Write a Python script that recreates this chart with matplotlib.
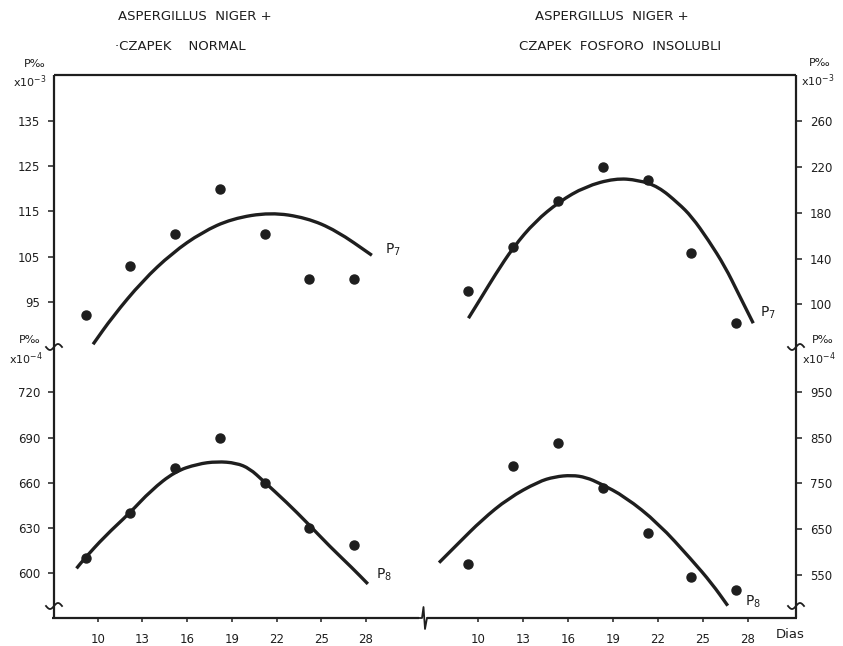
import numpy as np
import matplotlib
matplotlib.use("Agg")
import matplotlib.pyplot as plt
from matplotlib.path import Path
from matplotlib.patches import PathPatch

# ---------------- data ----------------
days_left = [9.2, 12.2, 15.2, 18.2, 21.2, 24.2, 27.2]
p7_normal = [92, 103, 110, 120, 110, 100, 100]
p8_normal = [610, 640, 670, 690, 660, 630, 619]

days_right = [9.3, 12.3, 15.3, 18.3, 21.3, 24.2, 27.2]
p7_insol = [112, 150, 190, 220, 209, 145, 84]
p8_insol = [573, 789, 838, 741, 641, 545, 517]

# fitted curves as drawn
curve_p7n_days = [9.69, 11, 13, 15, 17, 19, 21.6, 24, 26, 28.4]
curve_p7n_vals = [85.6, 91.7, 99.6, 105.8, 110.4, 113.4, 114.8, 113.6, 110.8, 105.3]

curve_p8n_days = [8.58, 9.09, 10.47, 12.15, 13.58, 15.18, 16.69, 18.0, 19.3, 20.2, 21.09, 22.69, 24.07, 25.58, 27.09, 28.13]
curve_p8n_vals = [603.3, 609.5, 624.5, 640, 655, 667.5, 672.5, 674.2, 673.2, 669.5, 661.5, 647, 633.4, 617.8, 603.5, 593]

curve_p7i_days = [9.36, 10.25, 11.13, 12.35, 13.8, 15.42, 17.13, 19.13, 20.69, 22.02, 23.35, 24.25, 25.35, 26.47, 27.35, 28.35]
curve_p7i_vals = [87.8, 106.6, 125.6, 149.9, 172.3, 189.8, 202.9, 210.2, 208.7, 202.9, 188.4, 176.6, 156.3, 132.9, 109.6, 83.4]

curve_p8i_days = [7.4, 8.69, 10.25, 12.02, 14.02, 15.1, 16.25, 17.2, 18.13, 19.8, 22.02, 24.25, 25.58, 26.65]
curve_p8i_vals = [576.9, 619.2, 670, 717.5, 753.7, 764.4, 768, 763.2, 750, 721, 662.9, 582.8, 531.9, 483]

xticks = [10, 13, 16, 19, 22, 25, 28]
yticks_tl = [95, 105, 115, 125, 135]
yticks_bl = [600, 630, 660, 690, 720]
yticks_tr = [100, 140, 180, 220, 260]
yticks_br = [550, 650, 750, 850, 950]

# ---------------- figure ----------------
W, H = 843, 646
fig = plt.figure(figsize=(W / 100, H / 100), dpi=100)
fig.patch.set_facecolor('white')
INK = '#1e1e1e'


def px_rect(x0, y0, x1, y1):
    return [x0 / W, 1 - y1 / H, (x1 - x0) / W, (y1 - y0) / H]


axTL = fig.add_axes(px_rect(54, 75, 423, 347))
axBL = fig.add_axes(px_rect(54, 347, 423, 618))
axTR = fig.add_axes(px_rect(423, 75, 796, 347))
axBR = fig.add_axes(px_rect(423, 347, 796, 618))

axTL.set_xlim(7.07, 31.83); axBL.set_xlim(7.07, 31.83)
axTR.set_xlim(6.33, 31.2); axBR.set_xlim(6.33, 31.2)
axTL.set_ylim(85.0, 145.2)
axTR.set_ylim(62.6, 300.6)
axBL.set_ylim(570.4, 750.1)
axBR.set_ylim(456.1, 1047.8)

for ax in (axTL, axBL, axTR, axBR):
    ax.patch.set_visible(False)
    for s in ax.spines.values():
        s.set_visible(False)
    ax.tick_params(colors=INK, labelsize=8.5, width=1.1)

for ax, yt in ((axTL, yticks_tl), (axBL, yticks_bl)):
    ax.set_yticks(yt)
    ax.yaxis.set_ticks_position('left')
    ax.tick_params(axis='y', direction='out', length=4, pad=6)
for ax, yt in ((axTR, yticks_tr), (axBR, yticks_br)):
    ax.set_yticks(yt)
    ax.yaxis.tick_right()
    ax.tick_params(axis='y', direction='out', length=4, pad=6)

for ax in (axTL, axTR):
    ax.set_xticks([])
for ax in (axBL, axBR):
    ax.set_xticks(xticks)
    ax.tick_params(axis='x', direction='out', length=3, pad=8)


def smooth_curve(ax, xs, ys, lw=2.4):
    """Draw the read curve as a smooth path (quadratic Bezier through midpoints)."""
    pts = list(zip(xs, ys))
    verts = [pts[0], ((pts[0][0] + pts[1][0]) / 2, (pts[0][1] + pts[1][1]) / 2)]
    codes = [Path.MOVETO, Path.LINETO]
    for i in range(1, len(pts) - 1):
        mid = ((pts[i][0] + pts[i + 1][0]) / 2, (pts[i][1] + pts[i + 1][1]) / 2)
        verts += [pts[i], mid]
        codes += [Path.CURVE3, Path.CURVE3]
    verts.append(pts[-1])
    codes.append(Path.LINETO)
    ax.add_patch(PathPatch(Path(verts, codes), fill=False, edgecolor=INK,
                           lw=lw, capstyle='butt', joinstyle='round'))


ms = 6.5
smooth_curve(axTL, curve_p7n_days, curve_p7n_vals)
axTL.plot(days_left, p7_normal, 'o', color=INK, ms=ms)
smooth_curve(axBL, curve_p8n_days, curve_p8n_vals)
axBL.plot(days_left, p8_normal, 'o', color=INK, ms=ms)
smooth_curve(axTR, curve_p7i_days, curve_p7i_vals)
axTR.plot(days_right, p7_insol, 'o', color=INK, ms=ms)
smooth_curve(axBR, curve_p8i_days, curve_p8i_vals)
axBR.plot(days_right, p8_insol, 'o', color=INK, ms=ms)

# ---------------- overlay: frame, breaks, labels ----------------
ov = fig.add_axes([0, 0, 1, 1])
ov.set_xlim(0, W); ov.set_ylim(H, 0)
ov.axis('off')
ov.patch.set_visible(False)

fl = dict(color=INK, lw=1.6, solid_capstyle='butt')
ov.plot([54, 796], [75, 75], **fl)
ov.plot([54, 54], [75, 618], **fl)
ov.plot([796, 796], [75, 618], **fl)
ov.plot([52, 419], [618, 618], **fl)
ov.plot([427, 797], [618, 618], **fl)
ov.plot([419, 422, 423.5, 425, 427], [618, 618, 607, 629, 618], color=INK, lw=1.3)

t = np.linspace(-1, 1, 30)
for xc in (54, 796):
    for yc in (347, 606):
        ov.plot(xc + 8 * t, yc - 3 * np.sin(np.pi * t), color=INK, lw=1.3)

tk = dict(color=INK, fontsize=8)
ov.text(35, 64, "P‰", ha='center', va='center', **tk)
ov.text(30, 82, r"x10$^{-3}$", ha='center', va='center', **tk)
ov.text(30, 340, "P‰", ha='center', va='center', **tk)
ov.text(26, 359, r"x10$^{-4}$", ha='center', va='center', **tk)
ov.text(820, 63, "P‰", ha='center', va='center', **tk)
ov.text(818, 81, r"x10$^{-3}$", ha='center', va='center', **tk)
ov.text(823, 340, "P‰", ha='center', va='center', **tk)
ov.text(819, 359, r"x10$^{-4}$", ha='center', va='center', **tk)
ov.text(790, 634, "Dias", ha='center', va='center', color=INK, fontsize=9.5)

ov.text(385, 250, r"P$_7$", ha='left', va='center', color=INK, fontsize=10)
ov.text(760, 313, r"P$_7$", ha='left', va='center', color=INK, fontsize=10)
ov.text(376, 575, r"P$_8$", ha='left', va='center', color=INK, fontsize=10)
ov.text(745, 602, r"P$_8$", ha='left', va='center', color=INK, fontsize=10)

ttl = dict(ha='center', va='center', color=INK, fontsize=9.5)
ov.text(195, 17, "ASPERGILLUS  NIGER +", **ttl)
ov.text(180, 47, "·CZAPEK    NORMAL", **ttl)
ov.text(612, 17, "ASPERGILLUS  NIGER +", **ttl)
ov.text(620, 47, "CZAPEK  FOSFORO  INSOLUBLI", **ttl)

fig.savefig("out.png", dpi=100, facecolor='white')
